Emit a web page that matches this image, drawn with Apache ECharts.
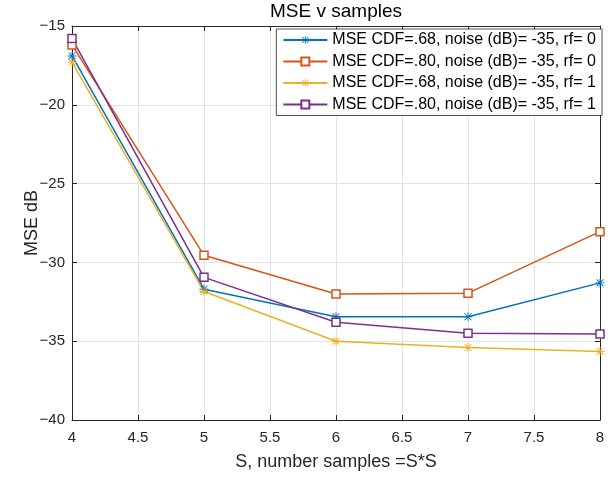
<!DOCTYPE html>
<html>
<head>
<meta charset="utf-8">
<script src="https://cdn.jsdelivr.net/npm/echarts@6/dist/echarts.min.js"></script>
<style>html,body{margin:0;padding:0;background:#fff;}#c{width:613px;height:481px;}</style>
</head>
<body>
<div id="c"></div>
<script>
const xValues = [4, 5, 6, 7, 8];
const seriesNames = [
  'MSE CDF=.68, noise (dB)= -35, rf= 0',
  'MSE CDF=.80, noise (dB)= -35, rf= 0',
  'MSE CDF=.68, noise (dB)= -35, rf= 1',
  'MSE CDF=.80, noise (dB)= -35, rf= 1'
];
const cdf68rf0 = [-16.9, -31.7, -33.45, -33.45, -31.3];
const cdf80rf0 = [-16.2, -29.55, -32.0, -31.95, -28.05];
const cdf68rf1 = [-17.3, -31.85, -35.0, -35.4, -35.65];
const cdf80rf1 = [-15.8, -30.95, -33.8, -34.5, -34.55];
const xTicks = [4, 4.5, 5, 5.5, 6, 6.5, 7, 7.5, 8];
const yTicks = [-40, -35, -30, -25, -20, -15];

const colors = ['#0072BD', '#D95319', '#EDB120', '#7E2F8E'];
const asterisk = 'path://M4.5 0L5.5 0L5.5 10L4.5 10Z M0 4.5L10 4.5L10 5.5L0 5.5Z M1.5 0.8L9.2 8.5L8.5 9.2L0.8 1.5Z M8.5 0.8L9.2 1.5L1.5 9.2L0.8 8.5Z';
const allData = [cdf68rf0, cdf80rf0, cdf68rf1, cdf80rf1];
const markers = ['star', 'square', 'star', 'square'];

const font = 'Liberation Sans, Arial, Helvetica, sans-serif';
const axisDark = '#262626';

function mkSeries(i) {
  const isSq = markers[i] === 'square';
  return {
    name: seriesNames[i],
    type: 'line',
    xAxisIndex: 0, yAxisIndex: 0,
    data: xValues.map((x, k) => [x, allData[i][k]]),
    symbol: isSq ? 'rect' : asterisk,
    symbolSize: isSq ? 8 : 9,
    showAllSymbol: true,
    lineStyle: { color: colors[i], width: 1.5 },
    itemStyle: isSq
      ? { color: '#ffffff', borderColor: colors[i], borderWidth: 1.5 }
      : { color: colors[i], borderWidth: 0 },
    emphasis: { disabled: true },
    animation: false,
    z: 3
  };
}

const chart = echarts.init(document.getElementById('c'), null, { renderer: 'canvas' });
chart.setOption({
  animation: false,
  backgroundColor: '#ffffff',
  color: colors,
  title: {
    text: 'MSE v samples',
    left: 334, top: 0, textAlign: 'center', padding: 2,
    textStyle: { fontFamily: font, fontSize: 19, fontWeight: 'normal', color: '#000' }
  },
  grid: { left: 72, right: 13, top: 26, bottom: 61, containLabel: false },
  legend: {
    orient: 'vertical',
    right: 11, top: 29,
    backgroundColor: '#ffffff',
    borderColor: axisDark, borderWidth: 0.8,
    padding: [3, 6, 3, 6],
    itemWidth: 44, itemHeight: 10, itemGap: 5.5,
    textStyle: { fontFamily: font, fontSize: 16, color: '#000', lineHeight: 16 },
    data: seriesNames
  },
  xAxis: [{
    type: 'value', min: 4, max: 8, interval: 0.5,
    name: 'S, number samples =S*S', nameLocation: 'middle', nameGap: 33,
    nameMoveOverlap: false,
    nameTextStyle: { fontFamily: font, fontSize: 18, color: '#262626' },
    axisLine: { show: true, onZero: false, lineStyle: { color: axisDark, width: 1 } },
    axisTick: { show: true, inside: true, length: 5, lineStyle: { color: axisDark } },
    axisLabel: { fontFamily: font, fontSize: 15, color: '#262626', margin: 10,
      formatter: v => xTicks.indexOf(v) >= 0 ? String(v) : '' },
    splitLine: { show: true, lineStyle: { color: '#e3e3e3', width: 1 } }
  }, {
    type: 'value', min: 4, max: 8, interval: 0.5, position: 'top',
    axisLine: { show: true, onZero: false, lineStyle: { color: axisDark, width: 1 } },
    axisTick: { show: true, inside: true, length: 5, lineStyle: { color: axisDark } },
    axisLabel: { show: false }, splitLine: { show: false }
  }],
  yAxis: [{
    type: 'value', min: -40, max: -15, interval: 5,
    name: 'MSE dB', nameLocation: 'middle', nameGap: 31, nameRotate: 90,
    nameMoveOverlap: false,
    nameTextStyle: { fontFamily: font, fontSize: 18, color: '#262626' },
    axisLine: { show: true, onZero: false, lineStyle: { color: axisDark, width: 1 } },
    axisTick: { show: true, inside: true, length: 5, lineStyle: { color: axisDark } },
    axisLabel: { fontFamily: font, fontSize: 15, color: '#262626', margin: 7,
      formatter: v => yTicks.indexOf(v) >= 0 ? String(v).replace('-', '\u2212') : '' },
    splitLine: { show: true, lineStyle: { color: '#e3e3e3', width: 1 } }
  }, {
    type: 'value', min: -40, max: -15, interval: 5, position: 'right',
    axisLine: { show: true, onZero: false, lineStyle: { color: axisDark, width: 1 } },
    axisTick: { show: true, inside: true, length: 5, lineStyle: { color: axisDark } },
    axisLabel: { show: false }, splitLine: { show: false }
  }],
  series: [0, 1, 2, 3].map(mkSeries)
});
</script>
</body>
</html>
